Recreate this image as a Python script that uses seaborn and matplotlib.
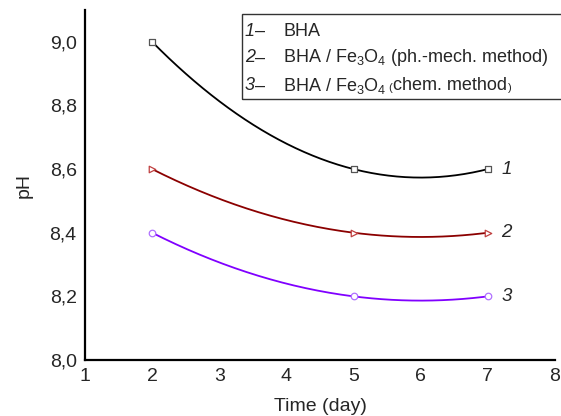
import numpy as np
import pandas as pd
import matplotlib
matplotlib.use("Agg")
import matplotlib.pyplot as plt
import seaborn as sns
from matplotlib.ticker import FuncFormatter, MultipleLocator
from matplotlib.patches import Rectangle

# data
days = [2, 5, 7]
ph_bha = [9.0, 8.6, 8.6]
ph_phmech = [8.6, 8.4, 8.4]
ph_chem = [8.4, 8.2, 8.2]

series_ids = ['1', '2', '3']
series_vals = [ph_bha, ph_phmech, ph_chem]
line_colors = ['black', '#8B0000', '#8000FF']
marker_edge = ['#555555', '#C04040', '#B070FF']
marker_kind = ['s', '>', 'o']

sns.set_style("white")
plt.rcParams['font.family'] = ['Liberation Sans', 'DejaVu Sans']
plt.rcParams['mathtext.fontset'] = 'custom'
plt.rcParams['mathtext.rm'] = 'Liberation Sans'

fig = plt.figure(figsize=(5.61, 4.16), dpi=100)
ax = fig.add_axes([85 / 561, 56 / 416, 470 / 561, 350 / 416])

for sid, vals, lc, mc, mk in zip(series_ids, series_vals, line_colors, marker_edge, marker_kind):
    # smooth curve through the three points (like the origin spline)
    coef = np.polyfit(days, vals, 2)
    xs = np.linspace(days[0], days[-1], 200)
    curve = pd.DataFrame({'x': xs, 'y': np.polyval(coef, xs)})
    sns.lineplot(data=curve, x='x', y='y', color=lc, linewidth=1.3, ax=ax)
    pts = pd.DataFrame({'x': days, 'y': vals})
    sns.scatterplot(data=pts, x='x', y='y', marker=mk, s=22, facecolor='white',
                    edgecolor=mc, linewidth=0.9, ax=ax, zorder=5)
    ax.text(days[-1] + 0.2, vals[-1], sid, fontsize=13.5, style='italic',
            ha='left', va='center')

ax.set_xlim(1, 8)
ax.set_ylim(8.0, 9.1)
ax.xaxis.set_major_locator(MultipleLocator(1))
ax.yaxis.set_major_locator(MultipleLocator(0.2))
ax.yaxis.set_major_formatter(FuncFormatter(lambda v, p: f"{v:.1f}".replace('.', ',')))
ax.tick_params(direction='in', length=5, width=1.5, labelsize=14, pad=6)
for s in ['top', 'right']:
    ax.spines[s].set_visible(False)
for s in ['left', 'bottom']:
    ax.spines[s].set_linewidth(1.6)
    ax.spines[s].set_color('black')
ax.set_xlabel('Time (day)', fontsize=14, labelpad=9)
ax.set_ylabel('pH', fontsize=14, labelpad=12)

# legend box drawn by hand
fig.patches.append(Rectangle((242 / 561, 1 - 99 / 416), 330 / 561, 85 / 416,
                             transform=fig.transFigure, fill=False,
                             edgecolor='#333333', linewidth=1.0))
legend_parts = [
    [('BHA', 13)],
    [('BHA / Fe$_3$O$_4$ (ph.-mech. method)', 13)],
    [('BHA / Fe$_3$O$_4$ ', 13), ('(', 8), ('chem. method', 13), (')', 8)],
]
row_y = [31, 58, 86]
renderer = fig.canvas.get_renderer()
for sid, parts, ry in zip(series_ids, legend_parts, row_y):
    yf = 1 - ry / 416
    fig.text(245 / 561, yf, sid, fontsize=13, style='italic', va='center')
    fig.text(255 / 561, yf, '\u2013', fontsize=13, va='center')
    x_px = 283
    for txt, fs in parts:
        t = fig.text(x_px / 561, yf, txt, fontsize=fs, va='baseline' if fs < 13 else 'center')
        if fs < 13:
            t.set_y(yf - 5 / 416)
        x_px = t.get_window_extent(renderer).x1 + 1

fig.savefig('out.png', dpi=100)
